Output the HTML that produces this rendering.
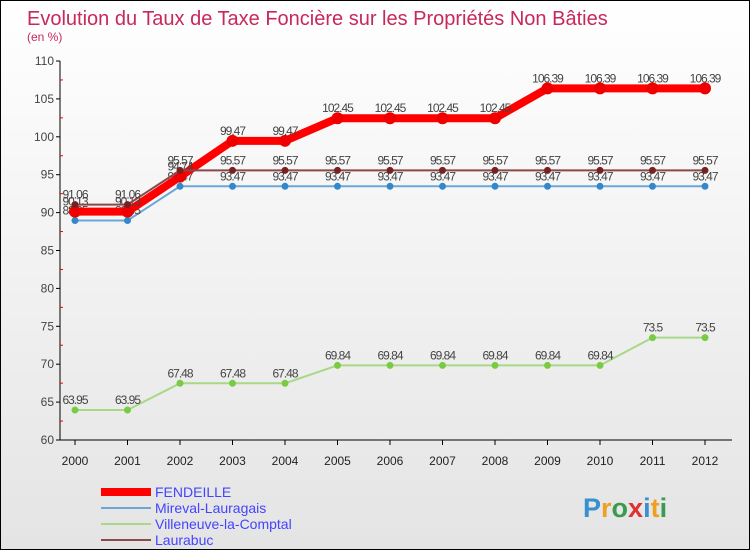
<!DOCTYPE html>
<html><head><meta charset="utf-8"><style>
body{margin:0}
#c{width:748px;height:548px;border:1px solid #000;background:linear-gradient(#fff,#e4e4e4);position:relative;font-family:"Liberation Sans",sans-serif}
</style></head><body>
<div id="c">
<svg id="s" width="748" height="548" style="position:absolute;left:0;top:0"></svg>
</div>
<script>
const years=[2000,2001,2002,2003,2004,2005,2006,2007,2008,2009,2010,2011,2012];
const fendeille=[90.13,90.13,94.74,99.47,99.47,102.45,102.45,102.45,102.45,106.39,106.39,106.39,106.39];
const mireval=[88.95,88.95,93.47,93.47,93.47,93.47,93.47,93.47,93.47,93.47,93.47,93.47,93.47];
const villeneuve=[63.95,63.95,67.48,67.48,67.48,69.84,69.84,69.84,69.84,69.84,69.84,73.5,73.5];
const laurabuc=[91.06,91.06,95.57,95.57,95.57,95.57,95.57,95.57,95.57,95.57,95.57,95.57,95.57];
const yTicks=[60,65,70,75,80,85,90,95,100,105,110];
const s=document.getElementById('s');const NS='http://www.w3.org/2000/svg';
function X(i){return 74+i*52.5}
function Y(v){return 439-(v-60)*7.58}
function el(t,a,txt,name){const e=document.createElementNS(NS,t);for(const k in a)e.setAttribute(k,a[k]);if(txt!=null)e.textContent=txt;


s.appendChild(e);return e}
el('text',{x:26,y:24,'font-size':20,fill:'#c8285a'},'Evolution du Taux de Taxe Foncière sur les Propriétés Non Bâties','chart-title');
el('text',{x:26,y:40,'font-size':12,fill:'#c8285a'},'(en %)','y-unit');
el('line',{x1:59,y1:60,x2:59,y2:439,stroke:'#000'},null,'y-axis');
el('line',{x1:59,y1:439,x2:731,y2:439,stroke:'#000'},null,'x-axis');
yTicks.forEach(v=>{el('line',{x1:55,x2:59,y1:Y(v),y2:Y(v),stroke:'#000'},null,'y-tick');
if(v<110)el('line',{x1:59,x2:62,y1:Y(v+2.5),y2:Y(v+2.5),stroke:'#e00'},null,'y-minor-tick');
el('text',{x:53,y:Y(v)+4,'font-size':12,fill:'#444','text-anchor':'end'},v,'y-tick-label')});
years.forEach((y,i)=>{el('line',{x1:X(i),x2:X(i),y1:439,y2:444,stroke:'#000'},null,'x-tick');
el('text',{x:X(i),y:464,'font-size':12,fill:'#222','text-anchor':'middle'},y,'x-tick-label')});
function series(d,col,w,r,name,dot){
el('polyline',{points:d.map((v,i)=>X(i)+','+Y(v)).join(' '),fill:'none',stroke:col,'stroke-width':w},null,name+'-line');
d.forEach((v,i)=>{el('circle',{cx:X(i),cy:Y(v),r:r,fill:dot},null,name+'-point');
el('text',{x:X(i),y:Y(v)-6,'font-size':12,fill:'#444','text-anchor':'middle','letter-spacing':'-1'},v,name+'-value')});
}
series(villeneuve,'#a8d888',2,3.5,'villeneuve','#7c4');
series(mireval,'#6aa6d8',2,3.5,'mireval','#38c');
series(fendeille,'#f00',8,6,'fendeille','#e00');
series(laurabuc,'#8b4a4a',2,3.5,'laurabuc','#722');
const leg=[['FENDEILLE','#f00',8],['Mireval-Lauragais','#6aa6d8',2],['Villeneuve-la-Comptal','#a8d888',2],['Laurabuc','#8b4a4a',2]];
leg.forEach((l,i)=>{const y=491+i*16;
el('line',{x1:100,x2:150,y1:y,y2:y,stroke:l[1],'stroke-width':l[2]},null,'legend-swatch');
el('text',{x:154,y:y+5,'font-size':14,fill:'#44f'},l[0],'legend-label')});
const logo=el('text',{x:582,y:516,'font-size':27,'font-weight':'bold'},null,'logo');
[['P','#3a8fd0'],['r','#f0a020'],['o','#3a9a50'],['x','#e03030'],['i','#3a8fd0'],['t','#f0a020'],['i','#3a9a50']].forEach(c=>{const t=document.createElementNS(NS,'tspan');t.setAttribute('fill',c[1]);t.textContent=c[0];logo.appendChild(t)});
</script>
</body></html>
